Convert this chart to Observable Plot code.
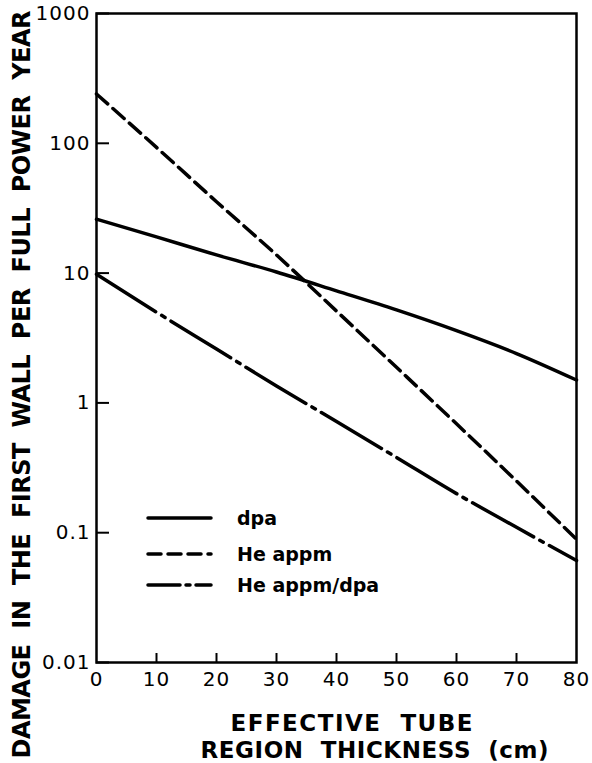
<!DOCTYPE html>
<html>
<head>
<meta charset="utf-8">
<script src="https://cdn.jsdelivr.net/npm/d3@7"></script>
<script src="https://cdn.jsdelivr.net/npm/@observablehq/plot@0.6"></script>
<style>
  html, body { margin: 0; padding: 0; background: #fff; }
  #chart { position: relative; width: 592px; height: 763px; }
</style>
</head>
<body>
<div id="chart"></div>
<script>
// thickness of effective tube region (cm)
const thickness = [0, 10, 20, 30, 40, 50, 60, 70, 80];
// damage per full power year
const dpa      = [26, 19, 13.8, 10.2, 7.3, 5.2, 3.6, 2.4, 1.5];
const heAppm   = [240, 93, 35.5, 13.8, 5.1, 1.88, 0.69, 0.25, 0.089];
const heRatio  = [9.8, 5.0, 2.6, 1.35, 0.72, 0.38, 0.2, 0.11, 0.061];

const seriesNames = ["dpa", "He appm", "He appm/dpa"];
const seriesValues = [dpa, heAppm, heRatio];
const dashes = [null, "15,7", "70,7,4,7"];
const legendDashes = [null, "13,7", "32,6,4,6"];

const xTicks = [0, 10, 20, 30, 40, 50, 60, 70, 80];
const yTicks = [0.01, 0.1, 1, 10, 100, 1000];
const yTickLabels = ["0.01", "0.1", "1", "10", "100", "1000"];

const xTitle1 = "EFFECTIVE  TUBE";
const xTitle2 = "REGION  THICKNESS  (cm)";
const yTitle = "DAMAGE  IN  THE  FIRST  WALL  PER  FULL  POWER  YEAR";

const rows = seriesNames.flatMap((name, i) =>
  thickness.map((t, j) => ({series: name, x: t, y: seriesValues[i][j]})));

const W = 592, H = 763;
const mL = 96, mR = 16, mT = 13, mB = 101;
const innerW = W - mL - mR, innerH = H - mT - mB;
const font = "'DejaVu Sans', sans-serif";

const chart = Plot.plot({
  width: W,
  height: H,
  marginLeft: mL,
  marginRight: mR,
  marginTop: mT,
  marginBottom: mB,
  style: {fontFamily: font, background: "#fff", color: "#000"},
  x: {domain: [0, 80]},
  y: {type: "log", domain: [0.01, 1000]},
  marks: [
    Plot.axisX(xTicks, {tickSize: 0, tickPadding: 9, fontSize: 20, tickFormat: d => String(d), label: null}),
    Plot.axisY(yTicks, {tickSize: 0, tickPadding: 6, fontSize: 20,
      tickFormat: d => yTickLabels[yTicks.indexOf(d)], label: null}),
    // inward ticks
    Plot.tickY(yTicks, {y: d => d, stroke: "#000", strokeWidth: 2, insetRight: innerW - 13}),
    Plot.tickX(xTicks.slice(1, -1), {x: d => d, stroke: "#000", strokeWidth: 2, insetTop: innerH - 9}),
    Plot.frame({stroke: "#000", strokeWidth: 2.5}),
    ...seriesNames.map((name, i) =>
      Plot.line(rows.filter(r => r.series === name), {
        x: "x", y: "y", curve: "monotone-x",
        stroke: "#000", strokeWidth: 3.5, strokeLinecap: "round",
        strokeDasharray: dashes[i]
      })),
    Plot.text([xTitle1], {frameAnchor: "bottom", dx: 15, dy: 61, text: d => d,
      fontSize: 23, fontWeight: "bold", fill: "#000", lineAnchor: "middle", textAnchor: "middle"}),
    Plot.text([xTitle2], {frameAnchor: "bottom", dx: 38, dy: 88, text: d => d,
      fontSize: 23, fontWeight: "bold", fill: "#000", lineAnchor: "middle", textAnchor: "middle"}),
    Plot.text([yTitle], {frameAnchor: "left",
      dx: -(mL - 22), dy: 384 - (mT + innerH / 2), rotate: -90, text: d => d,
      fontSize: 24, fontWeight: "bold", fill: "#000", lineAnchor: "middle", textAnchor: "middle"})
  ]
});

// keep the double word gaps of the hand lettering
chart.querySelectorAll("text, tspan").forEach(t => {
  t.setAttribute("xml:space", "preserve");
  t.style.whiteSpace = "pre";
});
// stretch the hand-lettered titles to the widths seen in the reference
const stretch = {[xTitle1]: 242, [xTitle2]: 348, [yTitle]: 748};
chart.querySelectorAll("text").forEach(t => {
  const w = stretch[t.textContent];
  if (w) { t.setAttribute("textLength", w); t.setAttribute("lengthAdjust", "spacing"); }
});
// slightly wider tick lettering
chart.querySelectorAll("g[aria-label='x-axis tick label'] text, g[aria-label='y-axis tick label'] text")
  .forEach(t => t.style.letterSpacing = "1px");

// legend inside the plot area
const svg = d3.select(chart);
const lg = svg.append("g").attr("font-family", font).attr("font-size", 19)
  .attr("font-weight", "bold").attr("text-anchor", "start");
const legendY = [518, 554, 585];
seriesNames.forEach((name, i) => {
  lg.append("line")
    .attr("x1", 148).attr("x2", 211).attr("y1", legendY[i]).attr("y2", legendY[i])
    .attr("stroke", "#000").attr("stroke-width", 3.5).attr("stroke-linecap", "round")
    .attr("stroke-dasharray", legendDashes[i]);
  lg.append("text").attr("x", 237).attr("y", legendY[i]).attr("dy", "0.35em")
    .attr("fill", "#000").attr("text-anchor", "start").text(name)
    .style("white-space", "pre");
});

document.getElementById("chart").appendChild(chart);
</script>
</body>
</html>
